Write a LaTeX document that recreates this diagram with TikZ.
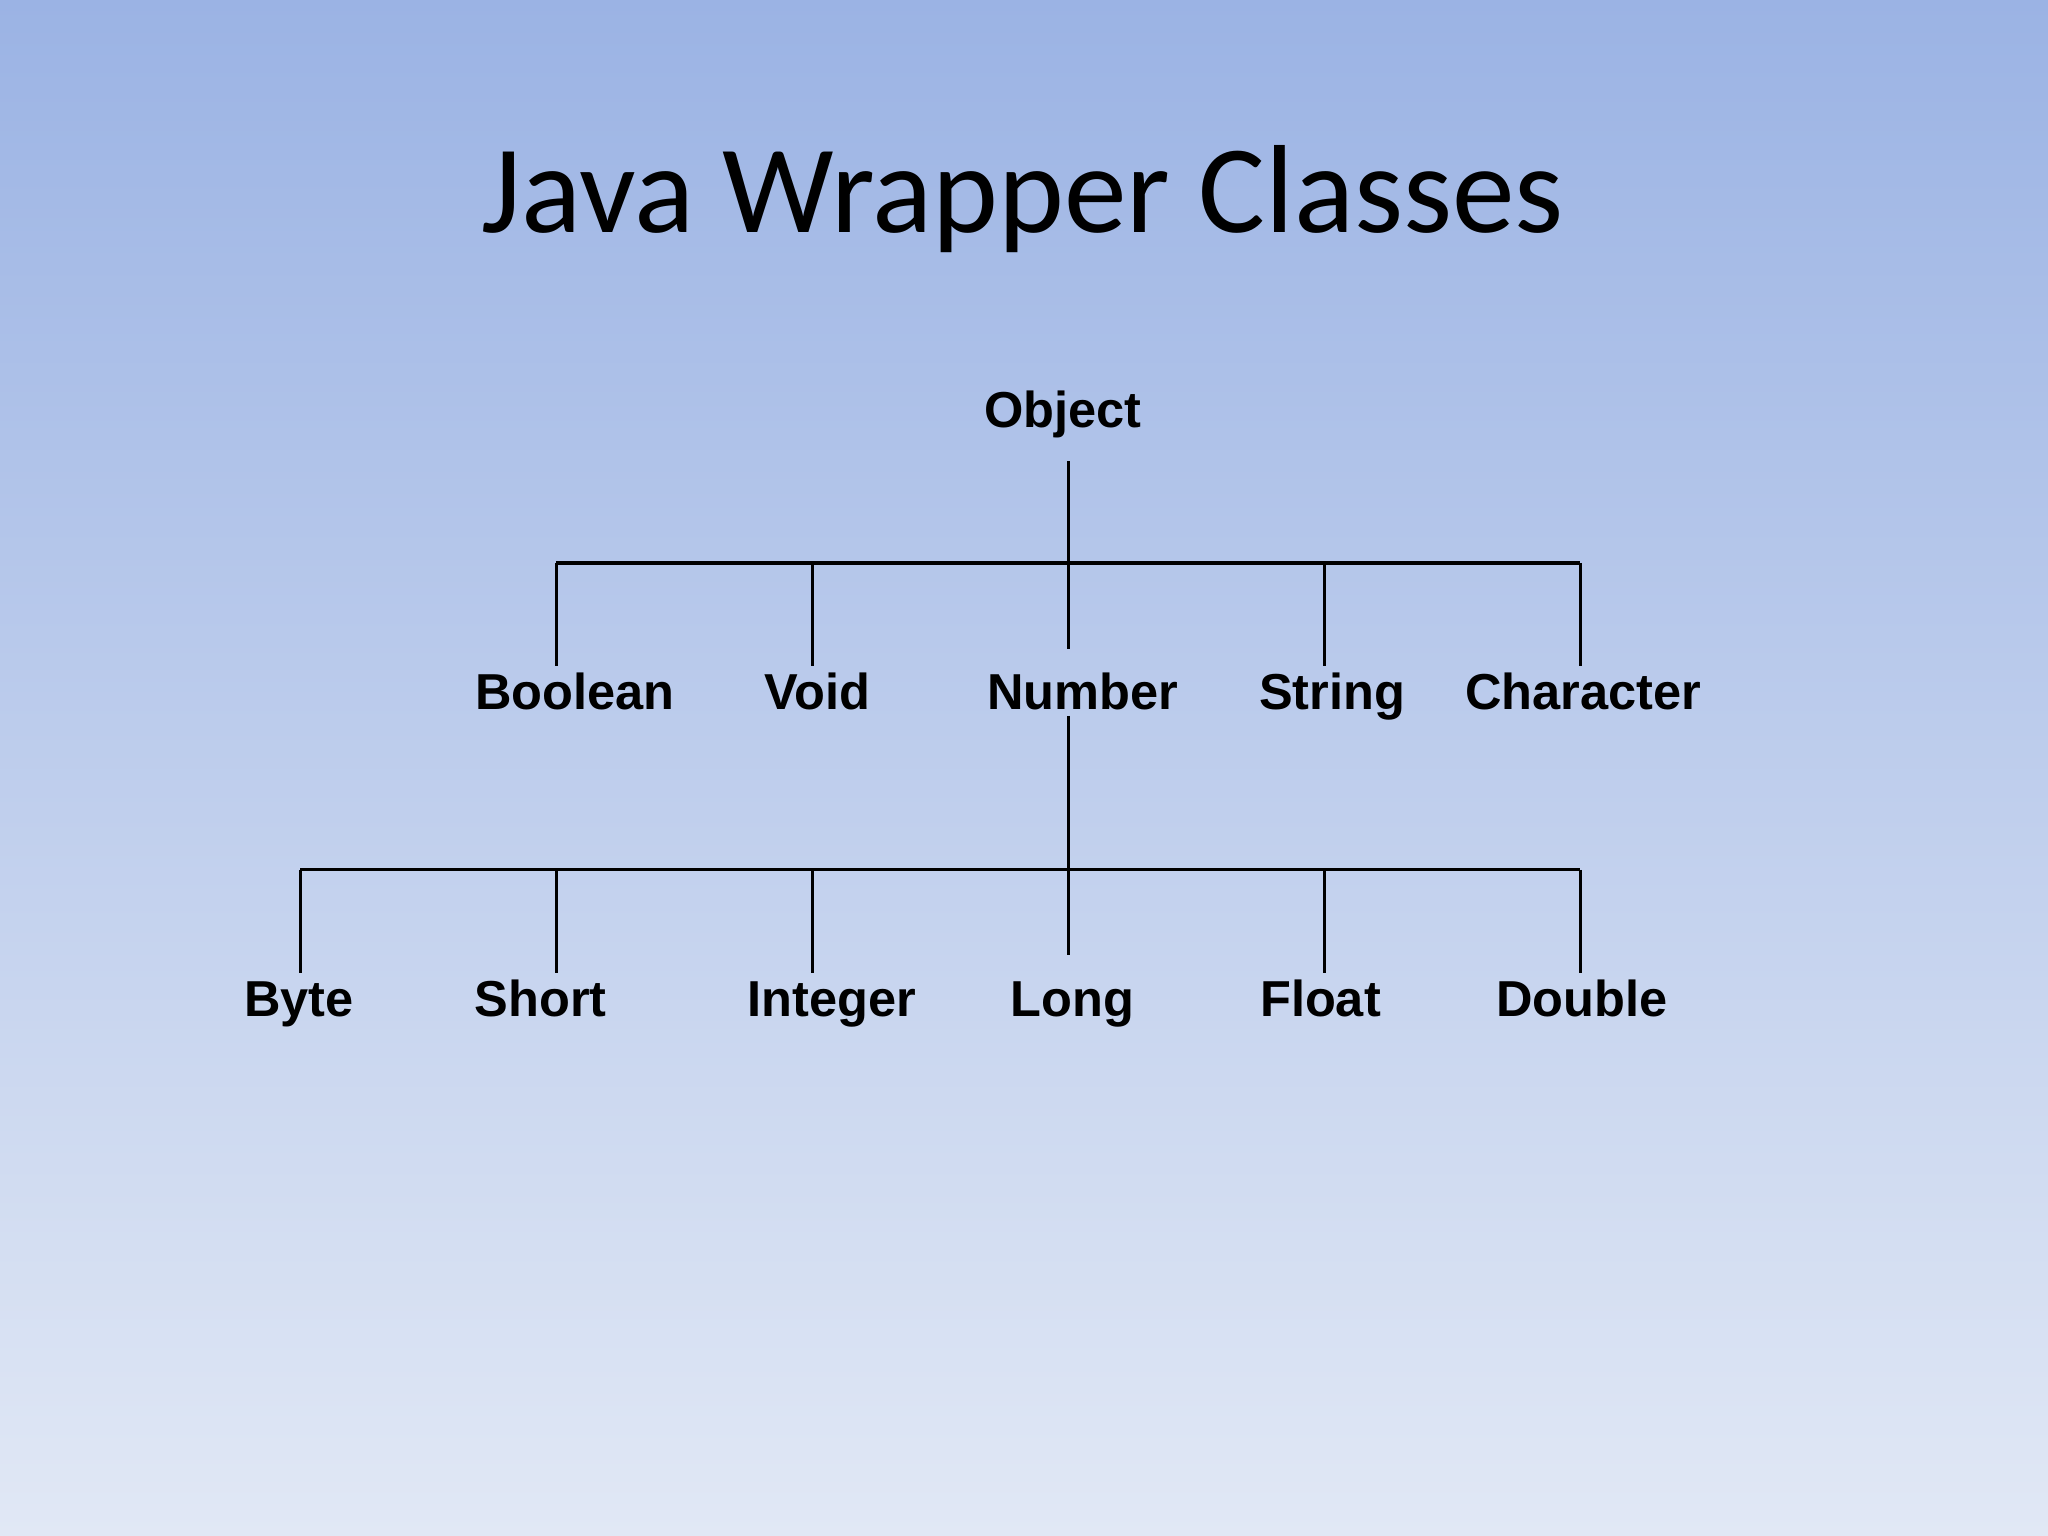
\documentclass[tikz,border=0pt]{standalone}
\usepackage{fontspec}
\setmainfont{Liberation Sans}
\newfontfamily\titlefont{Carlito}
\definecolor{topc}{HTML}{9BB3E4}
\definecolor{botc}{HTML}{E1E8F5}
\begin{document}
\begin{tikzpicture}[x=0.01cm,y=-0.01cm,
  lbl/.style={font=\fontsize{11}{13}\selectfont\bfseries,inner sep=0pt,anchor=base},
  ln/.style={line width=0.7pt,black}]
\shade[top color=topc,bottom color=botc] (0,0) rectangle (1568,1176);
\useasboundingbox (0,0) rectangle (1568,1176);
\node[font=\titlefont\fontsize{27.3}{33}\selectfont,anchor=base] (title) at (783,178) {Java Wrapper Classes};
\node[lbl] (obj) at (814,327) {Object};
\node[lbl] (bool) at (440,543) {Boolean};
\node[lbl] (void) at (626,543) {Void};
\node[lbl] (num) at (829,543) {Number};
\node[lbl] (str) at (1020,543) {String};
\node[lbl] (chr) at (1212,543) {Character};
\node[lbl] (byte) at (229,778) {Byte};
\node[lbl] (short) at (414,778) {Short};
\node[lbl] (int) at (637,778) {Integer};
\node[lbl] (long) at (821,778) {Long};
\node[lbl] (flt) at (1011,778) {Float};
\node[lbl] (dbl) at (1211,778) {Double};
% level 1 bus
\coordinate (o0) at (818,353); \coordinate (o1) at (818,431);
\coordinate (b1l) at (426,431); \coordinate (b1r) at (1210,431);
\draw[ln] (o0) -- (o1);
\draw[ln] (b1l) -- (b1r);
\foreach \x/\e in {426/510,622/510,818/497,1014/510,1210/510}
  \draw[ln] (\x,431) -- (\x,\e);
% level 2 bus
\coordinate (n0) at (818,548); \coordinate (n1) at (818,666);
\coordinate (b2l) at (230,666); \coordinate (b2r) at (1210,666);
\draw[ln] (n0) -- (n1);
\draw[ln] (b2l) -- (b2r);
\foreach \x/\e in {230/745,426/745,622/745,818/731,1014/745,1210/745}
  \draw[ln] (\x,666) -- (\x,\e);
\end{tikzpicture}
\end{document}
